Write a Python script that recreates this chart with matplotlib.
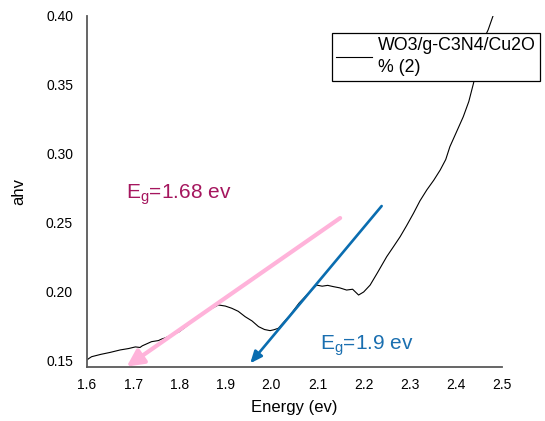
import matplotlib.pyplot as plt

plt.rcParams['font.family'] = ['Liberation Sans', 'DejaVu Sans']

# absorption curve
energy = [1.600, 1.604, 1.610, 1.630, 1.650, 1.672, 1.690, 1.705, 1.715, 1.720,
          1.740, 1.755, 1.762, 1.770, 1.784, 1.800, 1.815, 1.827, 1.840, 1.856,
          1.870, 1.885, 1.900, 1.914, 1.928, 1.943, 1.958, 1.972, 1.985, 1.997,
          2.005, 2.015, 2.025, 2.040, 2.060, 2.080, 2.098, 2.110, 2.122, 2.134,
          2.148, 2.163, 2.176, 2.189, 2.200, 2.214, 2.230, 2.250, 2.265, 2.279,
          2.293, 2.308, 2.322, 2.337, 2.352, 2.366, 2.378, 2.387, 2.400, 2.416,
          2.428, 2.438, 2.448, 2.456, 2.470, 2.481]
ahv = [0.1507, 0.1518, 0.1531, 0.1548, 0.1562, 0.1580, 0.1590, 0.1602, 0.1598, 0.1610,
       0.1640, 0.1648, 0.1659, 0.1668, 0.1688, 0.1712, 0.1750, 0.1785, 0.1815, 0.1857,
       0.1880, 0.1906, 0.1898, 0.1882, 0.1860, 0.1821, 0.1790, 0.1749, 0.1728, 0.1720,
       0.1726, 0.1737, 0.1775, 0.1830, 0.1920, 0.1990, 0.2050, 0.2042, 0.2048, 0.2039,
       0.2030, 0.2014, 0.2020, 0.1978, 0.2000, 0.2050, 0.2140, 0.2256, 0.2330, 0.2400,
       0.2480, 0.2570, 0.2660, 0.2740, 0.2810, 0.2884, 0.2960, 0.3053, 0.3150, 0.3270,
       0.3380, 0.3510, 0.3650, 0.3800, 0.3900, 0.4005]

x_ticks = [1.6, 1.7, 1.8, 1.9, 2.0, 2.1, 2.2, 2.3, 2.4, 2.5]
y_ticks = [0.15, 0.20, 0.25, 0.30, 0.35, 0.40]

# tangent arrows (start -> tip)
pink_start, pink_tip = (2.149, 0.2536), (1.686, 0.1459)
blue_start, blue_tip = (2.239, 0.2623), (1.954, 0.1483)

fig = plt.figure(figsize=(5.45, 4.21), dpi=100)
ax = fig.add_axes([0.1596, 0.1283, 0.7615, 0.8337])

ax.plot(energy, ahv, color='black', lw=0.8, label='WO3/g-C3N4/Cu2O\n% (2)')

ax.annotate('', xy=pink_tip, xytext=pink_start,
            arrowprops=dict(arrowstyle='-|>,head_length=1.0,head_width=0.5',
                            color='#FFB3DA', lw=3.0, shrinkA=0, shrinkB=0))
ax.annotate('', xy=blue_tip, xytext=blue_start,
            arrowprops=dict(arrowstyle='-|>,head_length=0.7,head_width=0.3',
                            color='#0A6DB0', lw=1.9, shrinkA=0, shrinkB=0))

ax.text(1.685, 0.2705, r'E$_\mathregular{g}$=1.68 ev', color='#A5165E', fontsize=15,
        va='center')
ax.text(2.105, 0.1612, r'E$_\mathregular{g}$=1.9 ev', color='#1A6FB0', fontsize=15,
        va='center')

ax.set_xlim(1.6, 2.5)
ax.set_ylim(0.14565, 0.40)
ax.set_xticks(x_ticks)
ax.set_xticklabels([f'{v:.1f}' for v in x_ticks])
ax.set_yticks(y_ticks)
ax.set_yticklabels([f'{v:.2f}' for v in y_ticks])
ax.tick_params(length=0, labelsize=10, pad=8)
ax.tick_params(axis='y', pad=10)

for s in ['top', 'right']:
    ax.spines[s].set_visible(False)
for s in ['left', 'bottom']:
    ax.spines[s].set_color('#595959')
    ax.spines[s].set_linewidth(1.3)

ax.set_xlabel('Energy (ev)', fontsize=12, labelpad=6)
ax.set_ylabel('ahv', fontsize=12, labelpad=14)

leg = ax.legend(loc='upper left', bbox_to_anchor=(0.609, 0.922),
                bbox_transform=fig.transFigure, fontsize=12.8, frameon=True,
                fancybox=False, edgecolor='black', framealpha=1,
                borderpad=0.25, handlelength=2.0, handletextpad=0.35,
                borderaxespad=0)
leg.get_frame().set_linewidth(0.9)
leg.get_texts()[0].set_linespacing(1.4)

fig.savefig('out.png', dpi=100)
